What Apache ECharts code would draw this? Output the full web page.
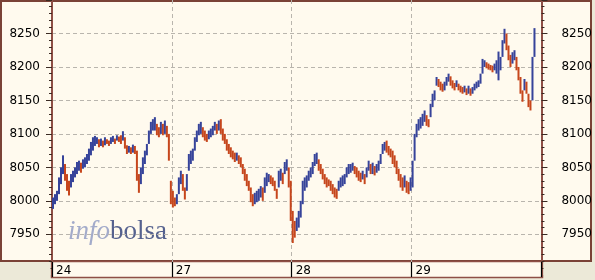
<!DOCTYPE html>
<html><head><meta charset="utf-8">
<script src="https://cdn.jsdelivr.net/npm/echarts@6/dist/echarts.min.js"></script>
<style>html,body{margin:0;padding:0;background:#ECE9D8}#c{width:595px;height:280px}</style>
</head><body><div id="c"></div><script>
// ---- data ----
const dayLabels = ['24', '27', '28', '29'];
const daySlots = [60, 60, 60, 65];          // category slots per day (last day has trailing empty slots)
const yTickLabels = [7950, 8000, 8050, 8100, 8150, 8200, 8250];

const lo24 = [7988,7995,8000,8010,8025,8040,8030,8015,8008,8020,8028,8035,8040,8045,8042,8048,8050,8055,8060,8068,8075,8082,8085,8080,8082,8080,8083,8085,8082,8085,8088,8085,8090,8088,8085,8090,8078,8070,8072,8070,8072,8070,8030,8012,8025,8040,8055,8068,8085,8100,8105,8105,8098,8095,8100,8098,8100,8095,8060,7995];
const hi24 = [8005,8010,8015,8035,8050,8068,8055,8040,8030,8040,8045,8050,8058,8060,8057,8062,8065,8070,8078,8088,8095,8097,8095,8092,8093,8090,8095,8092,8090,8095,8097,8093,8098,8096,8098,8104,8095,8083,8082,8080,8084,8082,8075,8040,8050,8065,8075,8085,8105,8118,8122,8125,8115,8110,8118,8115,8120,8112,8100,8030];
const lo27 = [7990,7992,7995,8010,8025,8015,8002,8015,8045,8055,8060,8075,8088,8098,8100,8095,8090,8088,8092,8095,8098,8105,8100,8105,8100,8090,8085,8075,8070,8065,8062,8058,8060,8055,8050,8040,8030,8022,8015,7998,7992,7995,7998,8000,8005,8000,8012,8022,8028,8025,8022,8015,8003,8020,8030,8025,8040,8045,8020,7970];
const hi27 = [8015,8005,8010,8035,8045,8040,8020,8040,8070,8075,8078,8095,8105,8115,8118,8110,8105,8100,8105,8108,8112,8118,8115,8120,8122,8108,8100,8092,8085,8080,8075,8072,8072,8068,8065,8055,8048,8040,8030,8020,8010,8012,8015,8018,8022,8020,8035,8042,8040,8038,8035,8030,8018,8045,8048,8042,8058,8062,8050,8030];
const lo28 = [7937,7945,7955,7960,7975,7995,8015,8020,8030,8035,8040,8052,8055,8045,8040,8032,8025,8020,8022,8015,8010,8005,8003,8015,8020,8022,8025,8035,8040,8042,8045,8040,8035,8030,8028,8032,8025,8035,8045,8040,8040,8038,8042,8045,8055,8070,8075,8072,8068,8065,8055,8050,8040,8030,8020,8015,8020,8012,8010,8015];
const hi28 = [7985,7970,7975,7985,8000,8030,8035,8038,8045,8050,8058,8070,8072,8062,8055,8048,8040,8035,8032,8030,8025,8020,8018,8030,8035,8038,8040,8050,8055,8055,8057,8052,8050,8045,8042,8045,8040,8050,8060,8055,8057,8052,8055,8060,8070,8085,8088,8090,8082,8078,8075,8068,8060,8048,8040,8035,8038,8030,8028,8035];
const lo29 = [8020,8060,8095,8105,8108,8112,8118,8112,8110,8125,8140,8150,8172,8170,8165,8163,8165,8172,8178,8172,8168,8165,8170,8165,8162,8160,8162,8158,8160,8157,8160,8165,8168,8170,8175,8190,8200,8198,8196,8195,8192,8195,8190,8180,8195,8215,8235,8225,8210,8200,8205,8210,8195,8180,8160,8148,8165,8160,8140,8135,8150,8215];
const hi29 = [8060,8100,8115,8122,8125,8130,8135,8128,8122,8145,8160,8165,8185,8182,8178,8175,8178,8185,8190,8186,8180,8176,8180,8175,8172,8170,8172,8168,8172,8168,8170,8175,8178,8180,8190,8212,8210,8207,8205,8203,8202,8205,8210,8223,8215,8240,8257,8250,8232,8218,8222,8225,8215,8200,8185,8165,8182,8178,8160,8150,8215,8258];

// ---- build ----
const lows = [lo24, lo27, lo28, lo29];
const highs = [hi24, hi27, hi28, hi29];
const categories = [];
const dayStart = new Set();
const bars = [];
let prevMid = null;
dayLabels.forEach((d, di) => {
  const start = categories.length;
  dayStart.add(start);
  for (let k = 0; k < daySlots[di]; k++) {
    const idx = categories.length;
    categories.push(d + '/' + k);
    if (k < lows[di].length) {
      const lo = lows[di][k], hi = highs[di][k];
      const mid = (lo + hi) / 2;
      const up = prevMid === null || mid >= prevMid ? 1 : 0;
      prevMid = mid;
      bars.push([idx, lo, hi, up]);
    }
  }
});

const BLUE = '#36439a', RED = '#c6461c';
const CREAM = '#FFFAEE', GREY = '#ECE9D8', BROWN = '#8e4f45';
const axisFont = { fontFamily: 'DejaVu Sans', fontSize: 12, color: '#000' };
const isDay = (i) => dayStart.has(i);

const chart = echarts.init(document.getElementById('c'), null, { renderer: 'canvas' });
const yCommon = {
  type: 'value', min: 7900, max: 8300, interval: 50, scale: true,
  axisLine: { show: true, lineStyle: { color: BROWN, width: 2 } },
  axisTick: { show: true, length: 6, lineStyle: { color: '#3a2a22', width: 1 } },
  minorTick: { show: true, splitNumber: 5, length: 3, lineStyle: { color: '#3a2a22', width: 1 } },
  minorSplitLine: { show: false }
};
chart.setOption({
  animation: false,
  backgroundColor: GREY,
  grid: { left: 52, right: 53, top: -4.8, bottom: 12.2, containLabel: false },
  xAxis: {
    type: 'category', data: categories, boundaryGap: true, offset: -5.8,
    axisLine: { show: false },
    axisTick: { show: true, length: 15, interval: (i) => isDay(i), lineStyle: { color: '#000', width: 1.2 } },
    axisLabel: Object.assign({
      interval: (i) => isDay(i),
      formatter: (v) => v.split('/')[0],
      align: 'left', verticalAlign: 'middle', margin: 9, padding: [0, 0, 0, 3]
    }, axisFont),
    splitLine: { show: true, interval: (i) => isDay(i) && i > 0, lineStyle: { type: [4, 3], color: '#b9b5ad', width: 1 } }
  },
  yAxis: [
    Object.assign({}, yCommon, {
      position: 'left',
      axisLabel: Object.assign({ margin: 12, formatter: (v) => yTickLabels.includes(v) ? String(v) : '' }, axisFont),
      splitLine: { show: true, lineStyle: { type: [4, 3], width: 1,
        color: ['rgba(0,0,0,0)', '#b9b5ad', '#b9b5ad', '#b9b5ad', '#b9b5ad', '#b9b5ad', '#b9b5ad', '#b9b5ad', 'rgba(0,0,0,0)'] } }
    }),
    Object.assign({}, yCommon, {
      position: 'right',
      axisLabel: Object.assign({ margin: 20, formatter: (v) => yTickLabels.includes(v) ? String(v) : '' }, axisFont),
      splitLine: { show: false }
    })
  ],
  graphic: [
    { type: 'rect', z: -10, shape: { x: 1, y: 1, width: 590, height: 260 },
      style: { fill: CREAM, stroke: '#7a4236', lineWidth: 2 } },
    { type: 'rect', z: -9, shape: { x: 51.5, y: 261.5, width: 491, height: 16 },
      style: { fill: CREAM, stroke: BROWN, lineWidth: 1.5 } },
    { type: 'rect', z: 100, shape: { x: 38, y: 263, width: 12.5, height: 12 }, style: { fill: GREY } },
    { type: 'rect', z: 100, shape: { x: 543.5, y: 263, width: 12, height: 12 }, style: { fill: GREY } },
    { type: 'text', z: -5, style: {
        x: 68, y: 232, verticalAlign: 'middle', align: 'left',
        text: '{a|info}{b|bolsa}',
        rich: {
          a: { fontFamily: 'Liberation Serif', fontStyle: 'italic', fontSize: 27, fill: '#a3abca', color: '#a3abca' },
          b: { fontFamily: 'Liberation Serif', fontSize: 27, fill: '#55618e', color: '#55618e' }
        }
      } }
  ],
  series: [{
    type: 'custom',
    xAxisIndex: 0, yAxisIndex: 0,
    data: bars,
    encode: { x: 0, y: [1, 2] },
    renderItem: (params, api) => {
      const i = api.value(0);
      const p1 = api.coord([i, api.value(1)]);
      const p2 = api.coord([i, api.value(2)]);
      return {
        type: 'line',
        shape: { x1: p1[0], y1: p1[1], x2: p2[0], y2: p2[1] },
        style: { stroke: api.value(3) ? BLUE : RED, lineWidth: 2 }
      };
    }
  }]
});
</script></body></html>
